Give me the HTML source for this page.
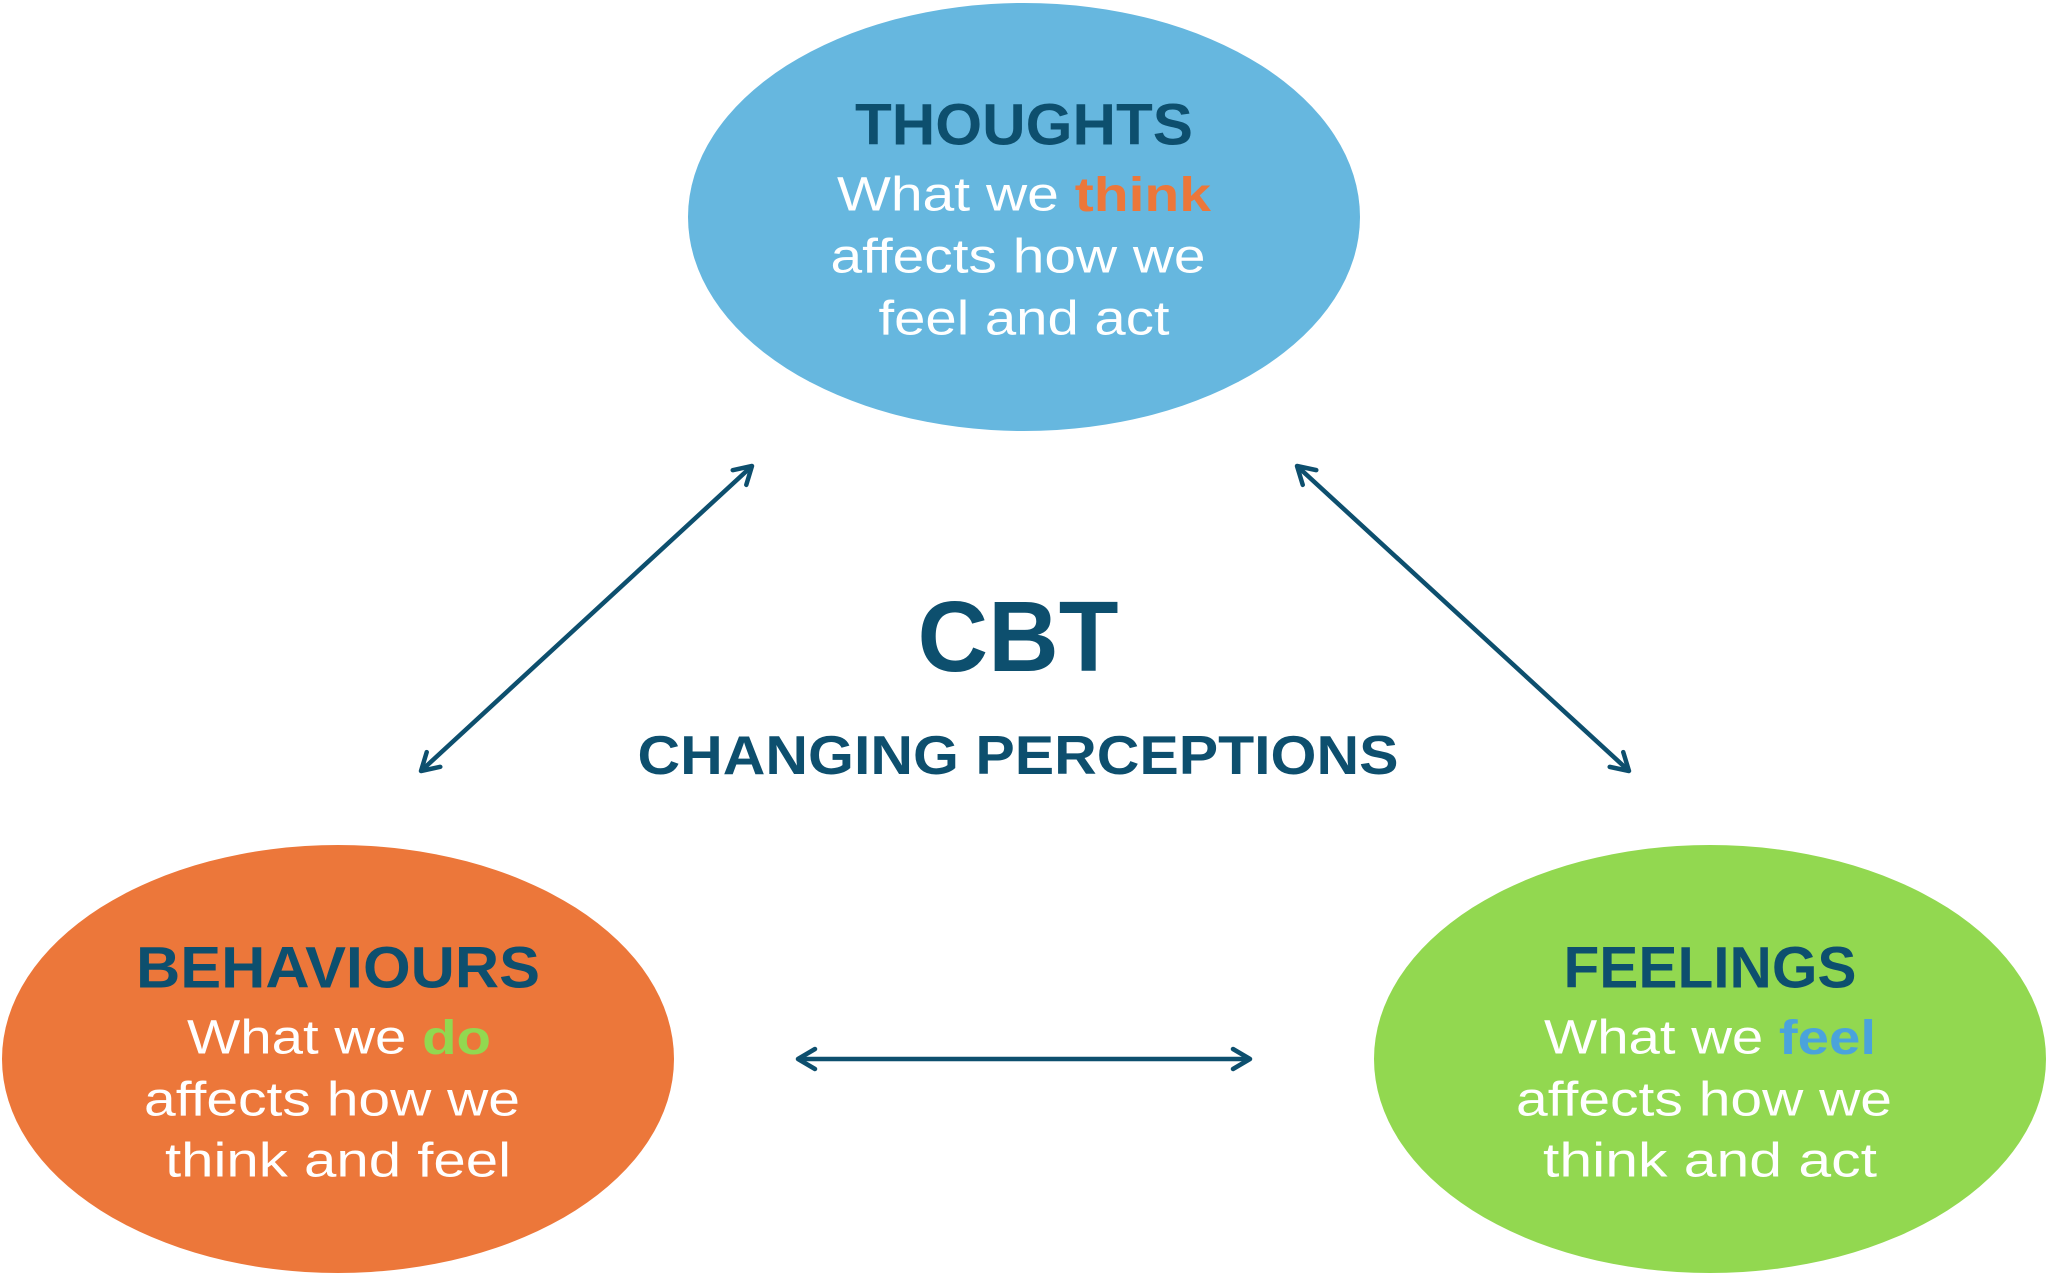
<!DOCTYPE html>
<html><head><meta charset="utf-8"><style>
html,body{margin:0;padding:0;background:#fff;}
svg{display:block;}
text{font-family:"Liberation Sans",sans-serif;}
.t{font-weight:bold;fill:#0d4f6e;font-size:58px;}
.b{fill:#fff;font-size:48px;}
</style></head><body>
<svg width="2048" height="1278" viewBox="0 0 2048 1278" xmlns="http://www.w3.org/2000/svg">
<defs>
<marker id="ah" viewBox="0 0 26 26" refX="23" refY="13" markerWidth="26" markerHeight="26" markerUnits="userSpaceOnUse" orient="auto-start-reverse">
<polyline points="6,3 23,13 6,23" fill="none" stroke="#0d4f6e" stroke-width="4.5" stroke-linecap="round" stroke-linejoin="round"/>
</marker>
</defs>
<ellipse cx="1024" cy="217" rx="336" ry="214" fill="#66b7df"/>
<ellipse cx="338" cy="1059" rx="336" ry="214" fill="#ec773a"/>
<ellipse cx="1710" cy="1059" rx="336" ry="214" fill="#92d850"/>

<g stroke="#0d4f6e" stroke-width="4.5" fill="none">
<line x1="421" y1="771" x2="752" y2="466" marker-start="url(#ah)" marker-end="url(#ah)"/>
<line x1="1297" y1="466" x2="1629" y2="771" marker-start="url(#ah)" marker-end="url(#ah)"/>
<line x1="798" y1="1059" x2="1250" y2="1059" marker-start="url(#ah)" marker-end="url(#ah)"/>
</g>

<g text-anchor="middle" dominant-baseline="central">
<text class="t" x="1024" y="125" textLength="338" lengthAdjust="spacingAndGlyphs">THOUGHTS</text>
<text class="b" x="1024" y="195" textLength="374" lengthAdjust="spacingAndGlyphs">What we <tspan fill="#ec773a" font-weight="bold">think</tspan></text>
<text class="b" x="1018" y="257" textLength="375" lengthAdjust="spacingAndGlyphs">affects how we</text>
<text class="b" x="1024" y="319" textLength="291" lengthAdjust="spacingAndGlyphs">feel and act</text>

<text x="1018" y="637" font-weight="bold" fill="#0d4f6e" font-size="100" textLength="201" lengthAdjust="spacingAndGlyphs">CBT</text>
<text x="1018" y="755" font-weight="bold" fill="#0d4f6e" font-size="55" textLength="761" lengthAdjust="spacingAndGlyphs">CHANGING PERCEPTIONS</text>

<text class="t" x="338" y="968" textLength="404" lengthAdjust="spacingAndGlyphs">BEHAVIOURS</text>
<text class="b" x="339" y="1038" textLength="304" lengthAdjust="spacingAndGlyphs">What we <tspan fill="#92d850" font-weight="bold">do</tspan></text>
<text class="b" x="332" y="1100" textLength="376" lengthAdjust="spacingAndGlyphs">affects how we</text>
<text class="b" x="338" y="1161" textLength="346" lengthAdjust="spacingAndGlyphs">think and feel</text>

<text class="t" x="1710" y="968" textLength="293" lengthAdjust="spacingAndGlyphs">FEELINGS</text>
<text class="b" x="1710" y="1038" textLength="332" lengthAdjust="spacingAndGlyphs">What we <tspan fill="#4aa3dc" font-weight="bold">feel</tspan></text>
<text class="b" x="1704" y="1100" textLength="376" lengthAdjust="spacingAndGlyphs">affects how we</text>
<text class="b" x="1710" y="1161" textLength="334" lengthAdjust="spacingAndGlyphs">think and act</text>
</g>
</svg>
</body></html>
